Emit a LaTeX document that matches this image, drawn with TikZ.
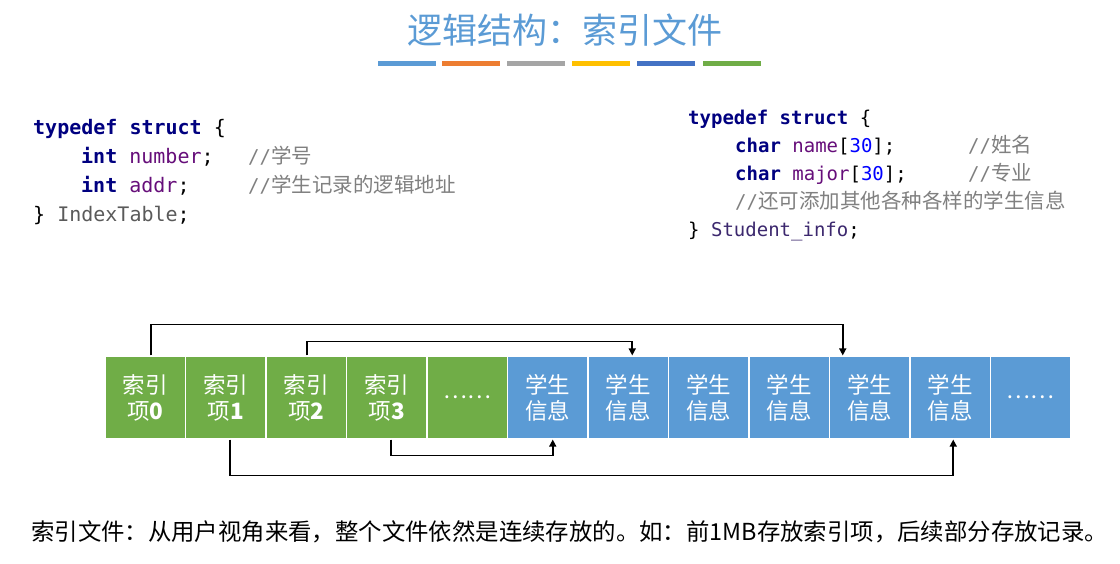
\documentclass[tikz,border=0pt]{standalone}
\usepackage{fontspec}
\setmonofont{DejaVu Sans Mono}
\newfontfamily\cjk{Noto Sans CJK SC}
\usetikzlibrary{arrows.meta}

\definecolor{titleblue}{RGB}{91,155,213}
\definecolor{barorange}{RGB}{237,125,49}
\definecolor{bargray}{RGB}{165,165,165}
\definecolor{baryellow}{RGB}{255,192,0}
\definecolor{bardark}{RGB}{68,114,196}
\definecolor{idxgreen}{RGB}{112,173,71}
\definecolor{kwnavy}{RGB}{0,0,128}
\definecolor{fieldpurple}{RGB}{102,14,122}
\definecolor{numblue}{RGB}{0,0,255}
\definecolor{cmtgray}{RGB}{128,128,128}
\definecolor{typegray}{RGB}{90,90,90}
\definecolor{typepurple}{RGB}{60,40,110}

\tikzset{
  code/.style={anchor=base west, inner sep=0pt, font=\fontsize{20}{24}\selectfont\ttfamily},
  coderight/.style={anchor=base west, inner sep=0pt, font=\fontsize{19}{23}\selectfont\ttfamily},
  cmt/.style={anchor=base west, inner sep=0pt, text=cmtgray, font=\fontsize{20.5}{24}\selectfont\cjk},
  cell/.style={minimum width=80.5pt, minimum height=83pt, inner sep=0pt, draw=white,
    line width=1.2pt, text=white, align=center,
    font=\fontsize{22.5}{26}\selectfont\cjk},
  idx/.style={cell, fill=idxgreen},
  stu/.style={cell, fill=titleblue},
  link/.style={draw=black, line width=1.6pt, -{Triangle[length=7pt,width=7pt]}},
  bar/.style={line width=5pt},
}
% comment marker in the code font, followed by the CJK comment text
\newcommand{\slashes}{{\fontsize{19}{23}\selectfont\ttfamily //}}

\begin{document}
\begin{tikzpicture}[x=1pt,y=-1pt]
\useasboundingbox (0,0) rectangle (1120,563);
\fill[white] (0,0) rectangle (1120,563);

% title and coloured rule
\node[text=titleblue, font=\fontsize{35}{40}\selectfont\cjk] (title) at (565,30) {逻辑结构：索引文件};
\draw[bar, titleblue] (378,63) -- (436,63);
\draw[bar, barorange] (442,63) -- (500,63);
\draw[bar, bargray] (507,63) -- (565,63);
\draw[bar, baryellow] (572,63) -- (630,63);
\draw[bar, bardark] (637,63) -- (695,63);
\draw[bar, idxgreen] (703,63) -- (761,63);

% index table struct
\node[code] (l1) at (33,134) {\textcolor{kwnavy}{\bfseries typedef struct} \{};
\node[code] (l2) at (81,163) {\textcolor{kwnavy}{\bfseries int} \textcolor{fieldpurple}{number};};
\node[code] (l3) at (81,192) {\textcolor{kwnavy}{\bfseries int} \textcolor{fieldpurple}{addr};};
\node[code] (l4) at (33,221) {\} \textcolor{typegray}{IndexTable};};
\node[cmt] (c2) at (248,163) {\slashes 学号};
\node[cmt] (c3) at (248,192) {\slashes 学生记录的逻辑地址};

% student record struct
\node[coderight] (r1) at (688,124) {\textcolor{kwnavy}{\bfseries typedef struct} \{};
\node[coderight] (r2) at (735,152) {\textcolor{kwnavy}{\bfseries char} \textcolor{fieldpurple}{name}[\textcolor{numblue}{30}];};
\node[coderight] (r3) at (735,180) {\textcolor{kwnavy}{\bfseries char} \textcolor{fieldpurple}{major}[\textcolor{numblue}{30}];};
\node[cmt] (rc2) at (968,152) {\slashes 姓名};
\node[cmt] (rc3) at (968,180) {\slashes 专业};
\node[cmt] (rc4) at (735,208) {\slashes 还可添加其他各种各样的学生信息};
\node[coderight] (r5) at (688,236) {\} \textcolor{typepurple}{Student\_info};};

% file layout: index entries followed by student records
\node[idx] (k0) at (145.25,397.5) {索引\\项\textbf{0}};
\node[idx] (k1) at (225.75,397.5) {索引\\项\textbf{1}};
\node[idx] (k2) at (306.25,397.5) {索引\\项\textbf{2}};
\node[idx] (k3) at (386.75,397.5) {索引\\项\textbf{3}};
\node[idx] (k4) at (467.25,397.5) {……};
\node[stu] (s0) at (547.75,397.5) {学生\\信息};
\node[stu] (s1) at (628.25,397.5) {学生\\信息};
\node[stu] (s2) at (708.75,397.5) {学生\\信息};
\node[stu] (s3) at (789.25,397.5) {学生\\信息};
\node[stu] (s4) at (869.75,397.5) {学生\\信息};
\node[stu] (s5) at (950.25,397.5) {学生\\信息};
\node[stu] (s6) at (1030.75,397.5) {……};

% index entries pointing to records
\draw[link] ([xshift=6pt]k0.north) -- ++(0,-31) -| ([xshift=-27pt]s4.north);
\draw[link] ([xshift=1pt]k2.north) -- ++(0,-14) -| ([xshift=4pt]s1.north);
\draw[link] ([xshift=4pt]k1.south) -- ++(0,36) -| ([xshift=3pt]s5.south);
\draw[link] ([xshift=4pt]k3.south) -- ++(0,16) -| ([xshift=5pt]s0.south);

% caption
\node[anchor=west, inner sep=0pt, font=\fontsize{23.4}{27}\selectfont\cjk] (cap) at (31,532)
  {索引文件：从用户视角来看，整个文件依然是连续存放的。如：前1MB存放索引项，后续部分存放记录。};
\end{tikzpicture}
\end{document}
